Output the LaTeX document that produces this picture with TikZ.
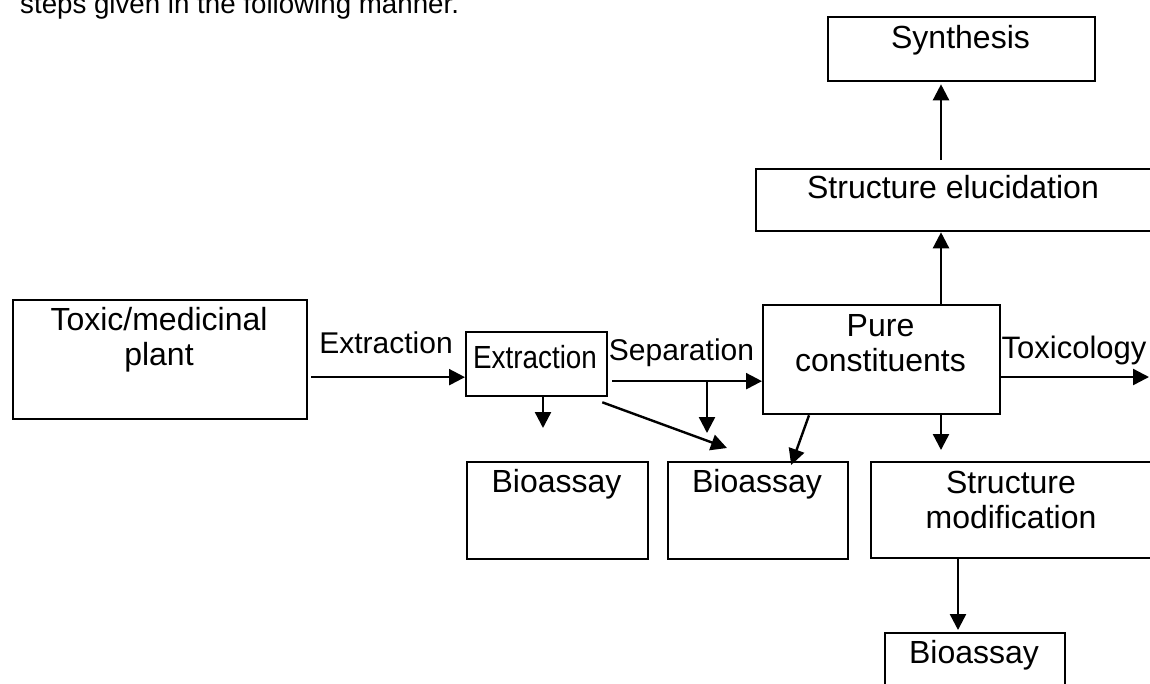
\documentclass[tikz,border=0pt]{standalone}
\usepackage{fontspec}
\setmainfont{Liberation Sans}
\usetikzlibrary{arrows.meta}
\begin{document}
\begin{tikzpicture}[x=1pt,y=-1pt,
  box/.style={draw,line width=2.3pt,anchor=north west,inner sep=0pt},
  txt/.style={font=\fontsize{32}{35.5}\selectfont,align=center,inner sep=0pt,anchor=base},
  lbl/.style={font=\fontsize{30}{34}\selectfont,inner sep=0pt,anchor=base},
  arr/.style={line width=2.4pt,-{Triangle[length=16pt,width=16pt]}}]
\useasboundingbox (0,0) rectangle (1150,683);
% intro text (cut by the page top, as in the reference)
\node[anchor=base west,inner sep=0pt,font=\fontsize{27.7}{32}\selectfont] (intro) at (20,13) {steps given in the following manner.};
% boxes
\node[box,minimum width=267pt,minimum height=64pt] (syn) at (827,16) {};
\node[box,minimum width=397pt,minimum height=62pt] (elu) at (755,168) {};
\node[box,minimum width=294pt,minimum height=119pt] (plant) at (12,299) {};
\node[box,minimum width=141pt,minimum height=64pt] (ext) at (465,331) {};
\node[box,minimum width=237pt,minimum height=109pt] (pure) at (762,304) {};
\node[box,minimum width=181pt,minimum height=97pt] (bio1) at (466,461) {};
\node[box,minimum width=180pt,minimum height=97pt] (bio2) at (667,461) {};
\node[box,minimum width=282pt,minimum height=96pt] (mod) at (870,461) {};
\node[box,minimum width=180pt,minimum height=70pt] (bio3) at (884,632) {};
% box texts (base = baseline of the last line)
\node[txt] (syntxt) at (960.5,48) {Synthesis};
\node[txt] (elutxt) at (953,198) {Structure elucidation};
\node[txt] (planttxt) at (159,365.5) {Toxic/medicinal\\plant};
\node[txt] (puretxt) at (880.5,371.5) {Pure\\constituents};
\node[txt] (modtxt) at (1011,528.5) {Structure\\modification};
\node[txt,xscale=0.87] (exttxt) at (535,368) {Extraction};
\node[txt] (bio1txt) at (556.5,492) {Bioassay};
\node[txt] (bio2txt) at (757,492) {Bioassay};
\node[txt] (bio3txt) at (974,663) {Bioassay};
% arrow labels
\node[lbl] (lext) at (386,353) {Extraction};
\node[lbl] (lsep) at (681.5,360) {Separation};
\node[lbl,font=\fontsize{31}{35}\selectfont] (ltox) at (1074,358) {Toxicology};
% free ends
\coordinate (e1) at (543,428);
\coordinate (s1) at (707,380);
\coordinate (s2) at (707,433);
\coordinate (d2) at (727,448);
\coordinate (p2) at (941,450);
\coordinate (t1) at (1149,377);
\coordinate (m1) at (958,630);
% connectors
\draw[arr] ([xshift=3pt,yshift=-17.5pt]plant.east) -- ([yshift=-13pt]ext.west);
\draw[arr] ([xshift=4pt,yshift=-17pt]ext.east) -- ([yshift=-21.5pt]pure.west);
\draw[arr] (ext.south -| e1) -- (e1);
\draw[arr] (s1) -- (s2);
\draw[arr] ([xshift=-6pt,yshift=-5pt]ext.south east) -- (d2);
\draw[arr] ([xshift=47pt]pure.south west) -- ([xshift=33pt,yshift=-4pt]bio2.north);
\draw[arr] (pure.south -| p2) -- (p2);
\draw[arr] (pure.north -| p2) -- (elu.south -| p2);
\draw[arr] ([yshift=8pt]elu.north -| p2) -- ([yshift=-2pt]syn.south -| p2);
\draw[arr] (pure.east |- t1) -- (t1);
\draw[arr] (mod.south -| m1) -- (m1);
\end{tikzpicture}
\end{document}
